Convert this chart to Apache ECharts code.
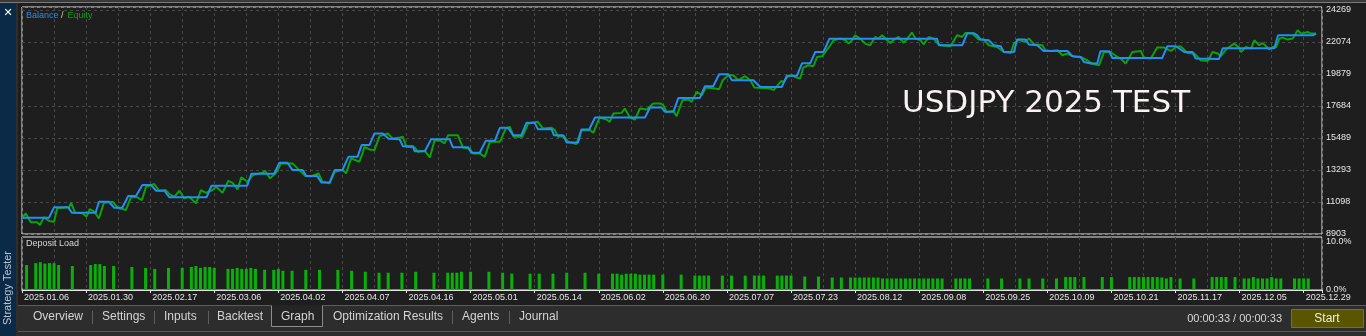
<!DOCTYPE html>
<html><head><meta charset="utf-8">
<script src="https://cdn.jsdelivr.net/npm/echarts@6/dist/echarts.min.js"></script>
<style>html,body{margin:0;padding:0;background:#1e1e1e;overflow:hidden}#c{width:1366px;height:336px}</style>
</head><body><div id="c"></div><script>
// ---- data ----
const xDates = ['2025.01.06','2025.01.30','2025.02.17','2025.03.06','2025.04.02','2025.04.07','2025.04.16','2025.05.01','2025.05.14','2025.06.02','2025.06.20','2025.07.07','2025.07.23','2025.08.12','2025.09.08','2025.09.25','2025.10.09','2025.10.21','2025.11.17','2025.12.05','2025.12.29'];
const yTickLabels = ['8903','11098','13293','15489','17684','19879','22074','24269'];
const loadTickLabels = ['0.0%','10.0%'];

const balanceX = [0,5.9,7.0,10.1,10.9,16.1,16.8,19.0,20.1,21.9,23.2,24.9,26.3,28.2,29.3,31.1,32.2,40.3,41.4,49.2,50.1,55.1,56.2,58.0,59.1,61.3,62.1,64.5,65.4,67.2,68.3,70.0,71.3,73.3,74.2,75.9,77.0,78.8,80.1,82.5,83.2,85.4,85.8,88.0,89.4,93.4,94.1,97.4,98.2,100.0,101.3,103.3,104.4,106.2,107.3,109.1,110.2,112.0,112.7,115.7,116.2,118.2,119.0,121.5,122.2,123.9,125.2,136.1,137.2,139.7,140.5,142.3,143.4,148.1,149.2,151.0,152.3,154.3,155.1,159.8,161.3,166.0,167.1,169.3,170.4,172.2,173.3,175.1,176.4,199.9,200.3,205.4,206.5,208.0,208.7,209.4,211.2,212.3,213.8,214.5,216.7,217.4,219.2,220.0,221.8,223.2,228.4,229.5,231.3,232.0,233.5,234.9,235.6,237.5,238.2,249.1,250.2,252.1,253.9,255.7,256.4,261.5,262.3,273.6,274.4,282.0,282.3,282.7];
const balanceY = [10020,10020,10732,10732,10362,10362,11116,11116,10705,10705,11506,11506,12260,12260,11869,11869,11417,11417,12212,12212,13034,13034,13787,13787,13287,13287,12876,12876,12444,12444,13287,13287,14198,14198,15000,15000,15801,15801,15430,15400,14931,14931,14575,14575,15411,15411,14860,14860,14472,14472,15294,15294,16185,16185,15685,15685,16527,16527,16096,16096,15685,15685,15184,15184,16075,16075,16897,16897,17582,17582,17281,17281,18240,18240,19041,19041,19863,19863,19452,19452,18993,18993,19760,19760,20610,20610,21391,21391,22300,22300,21850,21850,22670,22670,22535,22240,22200,21850,21781,21391,21391,22240,22240,21900,21850,21459,21459,21096,21048,20706,20596,20596,21439,21439,20980,20980,21781,21781,21391,21391,20938,20910,21640,21640,22535,22535,22651,22651];

const equityX = [0.1,0.8,1.9,3.3,3.9,4.8,5.9,7.0,7.7,10.3,10.7,11.6,13.2,14.1,14.8,15.8,16.8,17.9,19.8,20.9,22.7,23.8,25.2,26.2,27.1,28.9,30.0,31.4,32.2,33.3,34.4,35.4,36.5,38.0,39.1,40.2,41.6,42.4,43.8,45.1,46.0,47.1,47.9,49.3,50.4,52.6,53.1,54.2,55.5,56.6,59.1,60.6,61.9,63.2,64.8,65.6,67.2,68.3,70.1,70.8,71.9,73.7,74.5,74.8,75.9,77.0,78.1,79.9,81.0,82.5,83.2,84.0,85.8,86.5,88.0,89.1,90.1,91.2,92.3,93.1,95.2,96.3,97.8,98.5,100.0,101.1,102.2,104.4,105.7,106.6,107.4,109.3,110.6,112.7,113.8,115.7,116.4,117.1,118.4,119.3,121.1,122.2,124.1,124.8,126.2,127.7,128.4,129.2,131.0,131.7,132.8,133.9,135.0,136.5,137.9,139.4,140.1,140.8,142.3,143.0,144.3,145.6,146.3,147.4,148.5,149.4,151.4,152.3,153.1,154.3,155.4,156.5,158.0,159.1,160.0,163.5,164.2,165.9,166.4,167.1,168.2,168.9,170.0,170.7,171.8,172.9,173.7,174.8,175.5,176.6,177.3,178.8,179.9,180.6,181.3,182.0,183.1,184.2,185.3,186.4,187.1,187.9,189.0,189.7,190.8,191.5,192.6,193.7,194.4,195.2,196.3,197.0,198.1,199.2,199.9,200.7,202.8,204.3,205.4,206.1,207.6,209.0,210.1,211.2,213.0,214.5,216.0,216.7,217.8,218.9,220.0,221.1,222.9,223.6,224.7,226.2,227.3,228.4,229.5,230.6,231.6,232.7,233.8,235.3,236.4,237.8,239.3,240.0,241.1,242.6,244.4,245.1,246.6,248.0,249.5,251.0,252.1,253.1,254.6,256.1,257.5,259.0,260.1,261.2,261.9,263.0,264.8,265.9,266.3,267.4,268.5,269.2,270.3,271.0,271.8,272.5,273.2,274.0,274.7,275.4,276.5,277.6,278.7,279.4,280.1,280.9,281.6,282.7];
const equityY = [10020,10321,9704,9704,9520,10047,9793,9746,10663,10732,11047,10362,10321,10088,10615,10431,9978,11047,11116,10705,10547,11417,11417,11232,12143,12328,11869,11917,11643,11458,11869,11348,11458,11006,11917,11732,11917,12143,11732,12554,12417,11965,12787,12486,12944,13102,13239,12718,13102,13746,13746,13287,12876,12876,13061,12486,12376,13171,13287,13061,14088,13856,14541,14883,14705,14657,15616,15801,15458,15527,15568,14883,14842,14541,14609,14157,15294,15342,15116,15684,15684,14842,14773,14431,14431,14198,15226,15226,16143,16253,15568,15568,16486,16596,16143,16185,16027,15568,15616,15226,15068,16027,16027,15842,16897,16760,16596,17171,17212,17513,16897,16760,17513,17445,17856,17856,17739,17281,17349,16986,18082,18130,17966,18651,18424,18952,18883,18835,19452,19794,19794,19452,19726,19452,18952,18883,18767,19404,19315,19678,19794,19678,19568,20322,20479,20411,21048,21096,21391,21850,22192,22308,22192,21966,22192,22534,22308,21966,21850,22418,22308,22534,22192,22007,22308,22418,22007,22418,22719,22308,22192,21918,22418,22308,22007,21850,21781,22534,22418,22692,22651,22240,22240,21850,21733,21391,21322,21966,22240,22076,22308,21918,21850,21507,21459,21507,21164,21281,21096,21048,21007,20822,20596,20479,21391,21391,21048,20938,20596,21391,21459,21007,20938,21692,21692,21459,21733,21781,21322,21281,20822,20774,21391,21281,21096,21555,21966,21692,21391,21733,21623,22192,21850,22007,21781,21555,21733,21733,22308,22377,22240,22308,22877,22651,22692,22761,22651,22651];

const loadX = [1,3,4,5,6,7,8,11,15,16,17,18,20,24,27,29,32,35,37,38,39,40,41,42,45,46,47,48,49,50,51,53,55,56,57,59,62,65,69,72,75,78,80,83,86,90,93,94,95,96,98,102,105,107,111,113,116,119,123,126,129,130,131,132,133,134,135,136,137,138,140,144,147,148,149,150,153,155,158,160,161,162,165,166,167,168,171,174,177,179,181,182,183,184,185,186,187,188,189,190,191,192,193,194,195,196,197,198,199,200,201,204,205,206,207,211,214,218,220,223,226,228,229,230,232,236,238,242,243,244,245,246,247,248,249,250,251,253,256,260,261,262,263,265,267,268,269,270,271,272,273,274,275,278,279,280,281];
const loadY = [5.2,5.6,5.8,5.5,5.6,5.6,5.2,5.0,5.2,5.4,5.4,5.0,5.0,4.8,4.6,4.4,4.6,4.6,4.8,5.0,4.6,4.8,4.8,4.6,4.4,4.4,4.6,4.4,4.4,4.6,4.4,4.2,4.2,4.4,4.0,4.0,4.2,4.2,4.2,4.0,3.8,3.6,3.6,3.6,3.8,3.6,3.6,3.6,3.6,3.8,3.8,3.8,3.6,3.4,3.4,3.4,3.4,3.6,3.6,3.4,3.4,3.4,3.2,3.4,3.4,3.4,3.2,3.2,3.2,3.2,3.2,3.2,3.0,3.0,3.0,3.0,3.0,3.0,3.0,3.0,3.0,3.0,3.0,3.0,3.0,3.0,2.8,2.8,2.6,2.6,2.6,2.6,2.6,2.6,2.6,2.6,2.6,2.4,2.4,2.4,2.4,2.4,2.4,2.4,2.4,2.4,2.4,2.4,2.4,2.4,2.4,2.4,2.4,2.4,2.4,2.4,2.4,2.4,2.4,2.4,2.4,2.7,2.7,2.7,2.7,2.7,2.7,2.7,2.7,2.7,2.7,2.7,2.7,2.7,2.6,2.4,2.7,2.4,2.4,2.7,2.7,2.7,2.7,2.7,2.4,2.4,2.7,2.4,2.4,2.4,2.7,2.4,2.4,2.4,2.4,2.4,2.4,2.4];

// ---- scales ----
const X_MAX = 284, X_GRID = 7, X_LABEL = 14;
const Y_MIN = 8903, Y_STEP = (24269 - 8903) / 7, Y_MAX = 24475;
const LOAD_MAX = 11.04;

const pairs = (xs, ys) => xs.map((x, i) => [x, ys[i]]);
const FONT = '"Liberation Sans", Arial, sans-serif';
const GRIDLINE = { show: true, lineStyle: { color: '#474747', type: [3, 3], width: 1 } };

function txt(text, x, y, size, fill, align, extra) {
  return Object.assign({ type: 'text', z: 100, style: {
    text, x, y, font: size + 'px ' + FONT, fill,
    align: align || 'left', verticalAlign: 'middle', textAlign: align || 'left', textVerticalAlign: 'middle'
  } }, extra || {});
}
function rect(x, y, w, h, fill, stroke) {
  return { type: 'rect', z: 1, shape: { x, y, width: w, height: h }, style: { fill, stroke: stroke || null, lineWidth: 1 } };
}
function line(x1, y1, x2, y2, stroke) {
  return { type: 'line', z: 2, shape: { x1, y1, x2, y2 }, style: { stroke, lineWidth: 1 } };
}

const tabs = [['Overview', 33], ['Settings', 102], ['Inputs', 164], ['Backtest', 217], ['Graph', 281], ['Optimization Results', 333], ['Agents', 462], ['Journal', 519]];

const graphics = [
  rect(0, 0, 1366, 3, '#3a3a3a'),
  line(0, 2.5, 1366, 2.5, '#7a7a7a'),
  rect(0, 3, 16, 333, '#0b2a47'),
  rect(16, 3, 2, 333, '#2e2e2e'),
  { type: 'text', z: 100, style: { text: '\u2715', x: 8, y: 13, font: 'bold 11px "DejaVu Sans", sans-serif', fill: '#ffffff', align: 'center', verticalAlign: 'middle', textAlign: 'center', textVerticalAlign: 'middle' } },
  { type: 'text', z: 100, x: 8, y: 288, rotation: Math.PI / 2,
    style: { text: 'Strategy Tester', x: 0, y: 0, font: '11px ' + FONT, fill: '#b9c6d4', align: 'center', verticalAlign: 'middle', textAlign: 'center', textVerticalAlign: 'middle' } },
  rect(18, 306, 1348, 25, '#2d2d2d'),
  line(18, 305.5, 1366, 305.5, '#5c5c5c'),
  line(18, 331.5, 1366, 331.5, '#5a5a5a'),
  rect(18, 332, 1348, 4, '#2d2d2d'),
  rect(271.5, 305.5, 51, 21, '#242424', '#8c8c8c'),
  line(272, 305.5, 322, 305.5, '#242424'),
  line(92.5, 311, 92.5, 324, '#5e5e5e'),
  line(154.5, 311, 154.5, 324, '#5e5e5e'),
  line(208.5, 311, 208.5, 324, '#5e5e5e'),
  line(452.5, 311, 452.5, 324, '#5e5e5e'),
  line(509.5, 311, 509.5, 324, '#5e5e5e'),
  ...tabs.map(t => txt(t[0], t[1], 317, 12, '#d4d4d4')),
  txt('00:00:33 / 00:00:33', 1282, 319, 11, '#d8d8d8', 'right'),
  rect(1291.5, 309.5, 72, 18, '#5a5500', '#7d7700'),
  txt('Start', 1327, 319, 12, '#f0efdc', 'center'),
  txt('Balance', 26, 15.5, 9, '#2a8cf0'),
  txt('/', 61, 15.5, 9, '#c8c8c8'),
  txt('Equity', 67.5, 15.5, 9, '#10a010'),
  txt('Deposit Load', 26, 244, 9, '#d8d8d8'),
  { type: 'text', z: 100, style: { text: 'USDJPY 2025 TEST', x: 902, y: 104, font: '31px "DejaVu Sans", sans-serif', fill: '#f8f2f2', align: 'left', verticalAlign: 'middle', textAlign: 'left', textVerticalAlign: 'middle' } }
];

const chart = echarts.init(document.getElementById('c'), null, { renderer: 'canvas' });
chart.setOption({
  animation: false,
  backgroundColor: '#1e1e1e',
  textStyle: { fontFamily: FONT },
  grid: [
    { left: 22, top: 7, width: 1300, height: 227, show: true, backgroundColor: '#1e1e1e', borderColor: '#e4e4e4', borderWidth: 1, containLabel: false },
    { left: 22, top: 237, width: 1300, height: 53, show: true, backgroundColor: '#1e1e1e', borderColor: '#e4e4e4', borderWidth: 1, containLabel: false }
  ],
  xAxis: [
    { type: 'value', gridIndex: 0, min: 0, max: X_MAX, interval: X_GRID, axisLine: { show: false }, axisTick: { show: false }, axisLabel: { show: false }, splitLine: GRIDLINE },
    { type: 'value', gridIndex: 1, min: 0, max: X_MAX, interval: X_GRID, position: 'bottom',
      axisLine: { show: true, lineStyle: { color: '#e4e4e4', width: 1 } }, axisTick: { show: false },
      axisLabel: { show: true, color: '#e6e6e6', fontSize: 9, fontFamily: FONT, align: 'left', margin: 3, padding: [0, 0, 0, 2],
        showMinLabel: true, showMaxLabel: true, hideOverlap: false,
        formatter: v => (Math.abs(v % X_LABEL) < 1e-6 && xDates[Math.round(v / X_LABEL)] !== undefined) ? xDates[Math.round(v / X_LABEL)] : '' },
      splitLine: GRIDLINE },
    { type: 'value', gridIndex: 1, min: 0, max: X_MAX, interval: X_LABEL, position: 'bottom', offset: 0,
      axisLine: { show: false }, axisTick: { show: true, length: 3, lineStyle: { color: '#e4e4e4' } }, axisLabel: { show: false }, splitLine: { show: false } }
  ],
  yAxis: [
    { type: 'value', gridIndex: 0, position: 'right', min: Y_MIN, max: Y_MAX, interval: Y_STEP,
      axisLine: { show: false }, axisTick: { show: false }, splitLine: GRIDLINE,
      axisLabel: { show: true, color: '#e6e6e6', fontSize: 9, fontFamily: FONT, margin: 4, hideOverlap: false, showMinLabel: true, showMaxLabel: true,
        formatter: v => { const i = Math.round((v - Y_MIN) / Y_STEP); return (Math.abs(v - (Y_MIN + i * Y_STEP)) < 0.5 && yTickLabels[i] !== undefined) ? yTickLabels[i] : ''; } } },
    { type: 'value', gridIndex: 1, position: 'right', min: 0, max: LOAD_MAX, interval: 10,
      axisLine: { show: false }, axisTick: { show: false }, splitLine: { show: false },
      axisLabel: { show: true, color: '#e6e6e6', fontSize: 9, fontFamily: FONT, margin: 4, hideOverlap: false, showMinLabel: true, showMaxLabel: true,
        formatter: v => v === 0 ? loadTickLabels[0] : (v === 10 ? loadTickLabels[1] : '') } }
  ],
  series: [
    { name: 'Equity', type: 'line', xAxisIndex: 0, yAxisIndex: 0, data: pairs(equityX, equityY), symbol: 'none', showSymbol: false,
      lineStyle: { color: '#0aa30a', width: 2 }, itemStyle: { color: '#0aa30a' }, z: 3 },
    { name: 'Balance', type: 'line', xAxisIndex: 0, yAxisIndex: 0, data: pairs(balanceX, balanceY), symbol: 'none', showSymbol: false,
      lineStyle: { color: '#2190f2', width: 2 }, itemStyle: { color: '#2190f2' }, z: 4 },
    { name: 'Deposit Load', type: 'bar', xAxisIndex: 1, yAxisIndex: 1, data: pairs(loadX, loadY), barWidth: 3,
      itemStyle: { color: '#0ab00a' } }
  ],
  graphic: graphics
});
</script></body></html>
